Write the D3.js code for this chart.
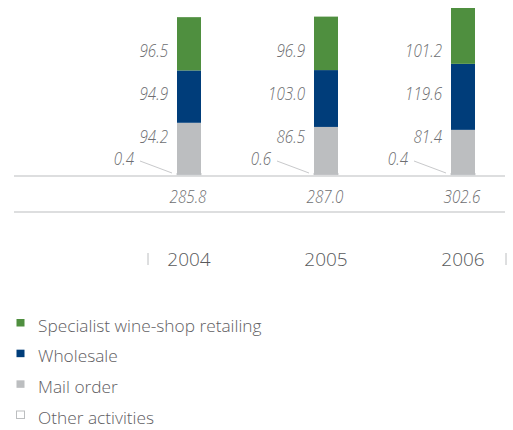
<!DOCTYPE html>
<html>
<head>
<meta charset="utf-8">
<script src="https://cdn.jsdelivr.net/npm/d3@7"></script>
<style>
  body { margin: 0; background: #fff; }
  .val { font-family: "Open Sans", sans-serif; font-style: italic; font-weight: 300; font-size: 19px; fill: #6d6e71; }
  .year { font-family: "Open Sans", sans-serif; font-weight: 300; font-size: 19px; fill: #58595b; }
  .legend text { font-family: "Open Sans", sans-serif; font-weight: 300; font-size: 17.3px; fill: #5f6063; }
</style>
</head>
<body>
<script>
const years = ["2004", "2005", "2006"];
const specialist = [96.5, 96.9, 101.2];
const wholesale = [94.9, 103.0, 119.6];
const mailOrder = [94.2, 86.5, 81.4];
const other = [0.4, 0.6, 0.4];
const totals = [285.8, 287.0, 302.6];

const seriesNames = ["Specialist wine-shop retailing", "Wholesale", "Mail order", "Other activities"];
const seriesKeys = ["specialist", "wholesale", "mailOrder", "other"];
const colors = { specialist: "#4f8f3f", wholesale: "#003d7a", mailOrder: "#bcbec0", other: "#ffffff" };

const width = 513, height = 430;
const squeeze = 0.8; // narrow look of the value labels

const svg = d3.select("body").append("svg")
  .attr("width", width)
  .attr("height", height);

// table for the stack
const table = years.map((y, i) => ({
  year: y,
  other: other[i],
  mailOrder: mailOrder[i],
  wholesale: wholesale[i],
  specialist: specialist[i]
}));

const stack = d3.stack().keys(["other", "mailOrder", "wholesale", "specialist"]);
const layers = stack(table);

const x = d3.scalePoint().domain(years).range([189, 463]);
const y = d3.scaleLinear().domain([0, d3.max(totals)]).range([175, 8]);
const barW = 24;

// bars
layers.forEach(layer => {
  svg.append("g")
    .selectAll("rect")
    .data(layer)
    .join("rect")
    .attr("x", d => x(d.data.year) - barW / 2)
    .attr("width", barW)
    .attr("y", d => layer.key === "other" ? y(d[1]) - 1.3 : y(d[1]))
    .attr("height", d => layer.key === "other" ? Math.max(y(d[0]) - y(d[1]), 1.3) : y(d[0]) - y(d[1]))
    .attr("fill", colors[layer.key])
    .attr("stroke", layer.key === "other" ? "#bcbec0" : "none")
    .attr("stroke-width", 0.8);
});

// baseline + lower rule
svg.append("line").attr("x1", 14).attr("x2", 505).attr("y1", 176).attr("y2", 176)
  .attr("stroke", "#bcbec0").attr("stroke-width", 1.2);
svg.append("line").attr("x1", 14).attr("x2", 505).attr("y1", 212).attr("y2", 212)
  .attr("stroke", "#bcbec0").attr("stroke-width", 1.2);

function valText(g, data, fx, fy, anchor, fmt) {
  g.selectAll("text")
    .data(data)
    .join("text")
    .attr("class", "val")
    .attr("transform", (d, i) => `translate(${fx(d, i)},${fy(d, i)}) scale(${squeeze},1)`)
    .attr("text-anchor", anchor)
    .text(fmt);
}

// value labels sit in fixed rows left of each bar
const rows = [
  { key: "specialist", vals: specialist, yb: 56.5 },
  { key: "wholesale", vals: wholesale, yb: 100 },
  { key: "mailOrder", vals: mailOrder, yb: 142.5 }
];
rows.forEach(r => {
  valText(svg.append("g"), years, d => x(d) - barW / 2 - 9, () => r.yb, "end",
    (d, i) => r.vals[i].toFixed(1));
});

// other activities labels with leader lines
valText(svg.append("g"), years, d => x(d) - barW / 2 - 43, () => 164.5, "end",
  (d, i) => other[i].toFixed(1));

svg.append("g").selectAll("line")
  .data(years)
  .join("line")
  .attr("x1", d => x(d) - barW / 2 - 37)
  .attr("y1", 161)
  .attr("x2", d => x(d) - barW / 2 - 5)
  .attr("y2", 173)
  .attr("stroke", "#c8c9cb")
  .attr("stroke-width", 1);

// totals
valText(svg.append("g"), years, d => x(d) - 1, () => 202.5, "middle",
  (d, i) => totals[i].toFixed(1));

// year axis
const xAxis = svg.append("g")
  .attr("transform", "translate(0,266)");
xAxis.selectAll("text")
  .data(years)
  .join("text")
  .attr("class", "year")
  .attr("x", d => x(d))
  .attr("text-anchor", "middle")
  .text(d => d);
[148, 506].forEach(tx => {
  xAxis.append("line").attr("x1", tx).attr("x2", tx).attr("y1", -13).attr("y2", -1)
    .attr("stroke", "#bcbec0").attr("stroke-width", 1);
});

// legend
const legend = svg.append("g").attr("class", "legend");
const ly = d3.scalePoint().domain(seriesKeys).range([323, 415]);
const item = legend.selectAll("g")
  .data(seriesKeys)
  .join("g")
  .attr("transform", d => `translate(0,${ly(d)})`);
item.append("rect")
  .attr("x", 16.5)
  .attr("y", -4)
  .attr("width", 8)
  .attr("height", 7.5)
  .attr("fill", d => colors[d])
  .attr("stroke", d => d === "other" ? "#bcbec0" : "none")
  .attr("stroke-width", 1);
item.append("text")
  .attr("x", 38)
  .attr("y", 8.5)
  .text((d, i) => seriesNames[i]);
</script>
</body>
</html>
